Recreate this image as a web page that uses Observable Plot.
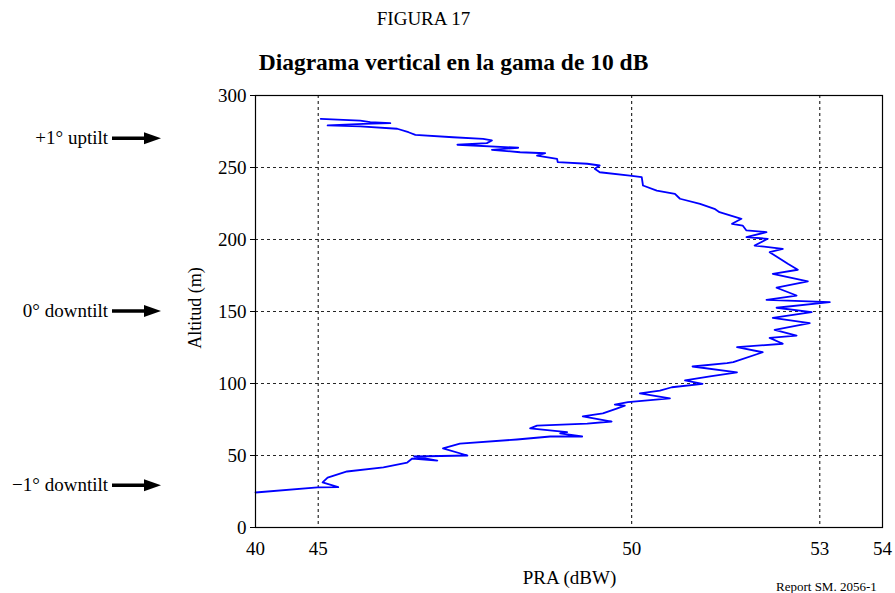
<!DOCTYPE html>
<html>
<head>
<meta charset="utf-8">
<script src="https://cdn.jsdelivr.net/npm/d3@7"></script>
<script src="https://cdn.jsdelivr.net/npm/@observablehq/plot@0.6"></script>
<style>
  html, body { margin: 0; padding: 0; background: #fff; }
  #wrap { position: relative; width: 895px; height: 593px; background: #fff; font-family: "Liberation Serif", "Times New Roman", serif; color: #000; overflow: hidden; }
  .t { position: absolute; white-space: nowrap; line-height: 1; font-family: "Liberation Serif", "Times New Roman", serif; }
  #chart { position: absolute; left: 0; top: 80px; }
</style>
</head>
<body>
<div id="wrap">
  <div class="t" id="title" style="left:423.5px; top:9px; font-size:19px; transform:translateX(-50%);">FIGURA 17</div>
  <div class="t" id="subtitle" style="left:453.5px; top:51px; font-size:23.5px; font-weight:bold; transform:translateX(-50%);">Diagrama vertical en la gama de 10 dB</div>
  <div id="chart"></div>
  <div class="t" id="xlabel" style="left:569.5px; top:568px; font-size:19px; transform:translateX(-50%);">PRA (dBW)</div>
  <div class="t" id="ylabel" style="left:195px; top:308px; font-size:18px; transform:translate(-50%,-50%) rotate(-90deg);">Altitud (m)</div>
  <div class="t" id="report" style="left:776px; top:580px; font-size:13px;">Report SM. 2056-1</div>
</div>
<script>
// Traced curve: PRA (dBW) vs altitude (m), bottom to top
const pra = [44.00,44.99,45.32,45.07,45.15,45.46,46.04,46.42,46.50,46.90,46.53,47.38,46.99,47.26,48.17,48.70,49.21,48.86,48.97,48.38,48.49,49.29,49.68,49.22,49.54,49.76,49.89,49.73,49.94,50.61,50.13,50.45,50.64,51.13,50.85,51.25,51.68,50.97,51.52,51.62,52.09,51.68,52.41,52.20,52.63,52.28,52.84,52.25,52.87,52.31,53.16,52.15,52.63,52.31,52.81,52.25,52.65,52.49,52.39,52.20,52.41,51.96,52.17,51.83,52.15,51.83,51.77,51.60,51.75,51.40,51.32,51.09,50.77,50.69,50.40,50.18,50.16,49.97,49.49,49.41,49.49,49.29,48.82,48.81,48.49,48.62,48.22,47.77,48.19,47.22,47.69,47.77,47.63,47.15,46.55,46.44,46.26,45.67,45.15,45.72,46.15,45.83,45.67,45.04];
const altitud = [24.3,27.8,28.0,31.3,34.7,38.9,41.7,45.1,47.9,46.5,49.3,50.0,54.9,58.3,61.1,63.2,63.2,65.3,66.2,68.8,70.8,72.2,73.6,77.1,79.2,82.6,84.7,85.4,87.0,89.6,93.1,95.1,97.4,99.8,102.1,104.9,107.8,111.8,114.1,114.8,121.7,125.2,127.6,131.7,133.3,137.3,141.9,145.6,149.5,152.6,156.5,158.1,161.1,166.5,171.0,176.2,179.0,183.1,185.9,191.2,193.5,195.8,200.5,201.6,205.1,206.3,209.7,210.9,214.4,219.0,221.3,224.8,228.3,231.7,234.0,237.5,243.3,244.4,246.7,249.1,251.4,252.6,253.7,256.0,258.3,259.9,260.6,262.3,263.7,265.8,266.9,268.8,269.9,271.0,272.7,274.5,276.9,278.5,279.2,280.3,280.8,281.5,282.6,283.8];

const xTicks = [44, 45, 50, 53, 54];
const xTickLabels = ["40", "45", "50", "53", "54"];
const yTicks = [0, 50, 100, 150, 200, 250, 300];
const xGrid = [45, 50, 53];
const yGrid = [50, 100, 150, 200, 250];
const tiltLabels = ["+1° uptilt", "0° downtilt", "\u22121° downtilt"];
const tiltAltitudes = [270, 150, 29];

const data = pra.map((p, i) => ({pra: p, alt: altitud[i]}));

const plot = Plot.plot({
  width: 895,
  height: 513,
  marginLeft: 255,
  marginRight: 13,
  marginTop: 15,
  marginBottom: 66,
  style: {fontFamily: "'Liberation Serif', 'Times New Roman', serif", fontSize: "19px", color: "black", background: "white"},
  x: {domain: [44, 54], ticks: xTicks, tickFormat: d => xTickLabels[xTicks.indexOf(d)], tickSize: 0, tickPadding: 14, label: null},
  y: {domain: [0, 300], ticks: yTicks, tickSize: 5, tickPadding: 4, label: null},
  marks: [
    Plot.ruleX(xGrid, {stroke: "black", strokeWidth: 1, strokeDasharray: "3,3"}),
    Plot.ruleY(yGrid, {stroke: "black", strokeWidth: 1, strokeDasharray: "3,3", strokeOpacity: 0.85}),
    Plot.line(data, {x: "pra", y: "alt", stroke: "#0000ff", strokeWidth: 1.8}),
    Plot.frame({stroke: "black", strokeWidth: 1.2})
  ]
});
document.getElementById("chart").appendChild(plot);

// Tilt annotations with arrows, placed on the plot's y scale
const ys = plot.scale("y");
const svg = d3.select(plot);
const g = svg.append("g");
tiltLabels.forEach((lab, i) => {
  const yy = ys.apply(tiltAltitudes[i]);
  g.append("text")
    .attr("x", 108).attr("y", yy).attr("dy", "0.32em")
    .attr("text-anchor", "end")
    .attr("font-size", 19)
    .attr("fill", "black")
    .text(lab);
  g.append("line")
    .attr("x1", 112).attr("x2", 147).attr("y1", yy).attr("y2", yy)
    .attr("stroke", "black").attr("stroke-width", 3.5);
  g.append("path")
    .attr("d", `M144,${yy - 6}L161,${yy}L144,${yy + 6}Z`)
    .attr("fill", "black");
});
</script>
</body>
</html>
